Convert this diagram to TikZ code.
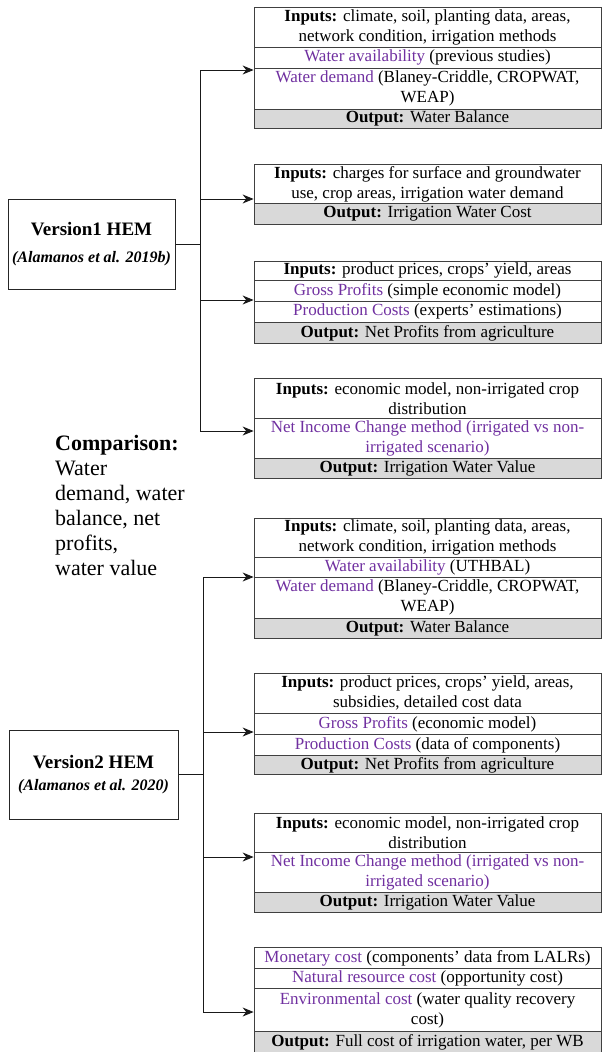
\documentclass[tikz,border=0pt]{standalone}
\usepackage{fontspec}
\setmainfont{Liberation Serif}
\usetikzlibrary{arrows.meta}
\definecolor{purp}{HTML}{7030A0}
\newcommand{\tf}{\fontsize{17}{20}\selectfont}
\newcommand{\pp}[1]{\textcolor{purp}{#1}}
\begin{document}
\begin{tikzpicture}[x=1pt,y=-1pt,
  cell/.style={draw=black!75, line width=0.8pt, minimum width=347pt, inner sep=0pt,
               align=center, font=\tf, anchor=north},
  outcell/.style={cell, fill=black!15},
  verbox/.style={draw=black!85, line width=1pt, inner sep=0pt, align=center},
  conn/.style={line width=1pt, draw=black!90},
  arr/.style={conn, -{Stealth[length=11pt,width=9pt]}}
]
\useasboundingbox (0,0) rectangle (603,1052);
\clip (0,0) rectangle (603,1052);

% ---------- Version 1 tables ----------
\node[cell, minimum height=40pt] (t1a) at (427.5,7) {\textbf{Inputs:} climate, soil, planting data, areas,\\network condition, irrigation methods};
\node[cell, minimum height=21pt] (t1b) at (427.5,47) {\pp{Water availability} (previous studies)};
\node[cell, minimum height=41pt] (t1c) at (427.5,68) {\pp{Water demand} (Blaney-Criddle, CROPWAT,\\WEAP)};
\node[outcell, minimum height=19pt] (t1d) at (427.5,109) {\textbf{Output:} Water Balance};

\node[cell, minimum height=39pt] (t2a) at (427.5,164) {\textbf{Inputs:} charges for surface and groundwater\\use, crop areas, irrigation water demand};
\node[outcell, minimum height=21pt] (t2b) at (427.5,203) {\textbf{Output:} Irrigation Water Cost};

\node[cell, minimum height=19pt] (t3a) at (427.5,261) {\textbf{Inputs:} product prices, crops’ yield, areas};
\node[cell, minimum height=21pt] (t3b) at (427.5,280) {\pp{Gross Profits} (simple economic model)};
\node[cell, minimum height=21pt] (t3c) at (427.5,301) {\pp{Production Costs} (experts’ estimations)};
\node[outcell, minimum height=21pt] (t3d) at (427.5,322) {\textbf{Output:} Net Profits from agriculture};

\node[cell, minimum height=40pt] (t4a) at (427.5,378) {\textbf{Inputs:} economic model, non-irrigated crop\\distribution};
\node[cell, minimum height=40pt] (t4b) at (427.5,418) {\pp{Net Income Change method (irrigated vs non-}\\\pp{irrigated scenario)}};
\node[outcell, minimum height=20pt] (t4c) at (427.5,458) {\textbf{Output:} Irrigation Water Value};

% ---------- Version 2 tables ----------
\node[cell, minimum height=39pt] (t5a) at (427.5,518) {\textbf{Inputs:} climate, soil, planting data, areas,\\network condition, irrigation methods};
\node[cell, minimum height=20pt] (t5b) at (427.5,557) {\pp{Water availability} (UTHBAL)};
\node[cell, minimum height=41pt] (t5c) at (427.5,577) {\pp{Water demand} (Blaney-Criddle, CROPWAT,\\WEAP)};
\node[outcell, minimum height=20pt] (t5d) at (427.5,618) {\textbf{Output:} Water Balance};

\node[cell, minimum height=40pt] (t6a) at (427.5,673) {\textbf{Inputs:} product prices, crops’ yield, areas,\\subsidies, detailed cost data};
\node[cell, minimum height=21pt] (t6b) at (427.5,713) {\pp{Gross Profits} (economic model)};
\node[cell, minimum height=21pt] (t6c) at (427.5,734) {\pp{Production Costs} (data of components)};
\node[outcell, minimum height=19pt] (t6d) at (427.5,755) {\textbf{Output:} Net Profits from agriculture};

\node[cell, minimum height=39pt] (t7a) at (427.5,813) {\textbf{Inputs:} economic model, non-irrigated crop\\distribution};
\node[cell, minimum height=40pt] (t7b) at (427.5,852) {\pp{Net Income Change method (irrigated vs non-}\\\pp{irrigated scenario)}};
\node[outcell, minimum height=20pt] (t7c) at (427.5,892) {\textbf{Output:} Irrigation Water Value};

\node[cell, minimum height=21pt] (t8a) at (427.5,947) {\pp{Monetary cost} (components’ data from LALRs)};
\node[cell, minimum height=20pt] (t8b) at (427.5,968) {\pp{Natural resource cost} (opportunity cost)};
\node[cell, minimum height=43pt] (t8c) at (427.5,988) {\pp{Environmental cost} (water quality recovery\\cost)};
\node[outcell, minimum height=21pt, text height=13pt, text depth=4pt] (t8d) at (427.5,1031) {\textbf{Output:} Full cost of irrigation water, per WB};
\fill[black!15] (254.4,1051.6) rectangle (600.6,1060);

% ---------- Version boxes ----------
\node[verbox, minimum width=167pt, minimum height=90pt, font=\fontsize{19}{27}\selectfont] (v1) at (91.5,244)
  {{\bfseries Version1 HEM}\\{\fontsize{16}{19}\selectfont\bfseries\itshape (Alamanos et al. 2019b)}};
\node[verbox, minimum width=169pt, minimum height=89pt, font=\fontsize{19}{22}\selectfont] (v2) at (93.5,774.5)
  {{\bfseries Version2 HEM}\\{\fontsize{16}{19}\selectfont\bfseries\itshape (Alamanos et al. 2020)}};

% ---------- Comparison text ----------
\node[anchor=north west, inner sep=0pt, align=left, font=\fontsize{22}{25}\selectfont] (cmp) at (55,435)
  {\textbf{Comparison:}\\Water\\demand, water\\balance, net\\profits,\\water value};

% ---------- Connectors version 1 ----------
\coordinate (j1a) at (200,70);
\coordinate (j1b) at (200,199);
\coordinate (j1c) at (200,300);
\coordinate (j1d) at (200,431);
\draw[conn] (v1.east) -- (v1.east -| j1a);
\draw[conn] (j1a) -- (j1d);
\draw[arr] (j1a) -- (j1a -| t1c.west);
\draw[arr] (j1b) -- (j1b -| t2a.west);
\draw[arr] (j1c) -- (j1c -| t3c.west);
\draw[arr] (j1d) -- (j1d -| t4b.west);

% ---------- Connectors version 2 ----------
\coordinate (j2a) at (203,577);
\coordinate (j2b) at (203,732);
\coordinate (j2c) at (203,857);
\coordinate (j2d) at (203,1012);
\draw[conn] (v2.east) -- (v2.east -| j2a);
\draw[conn] (j2a) -- (j2d);
\draw[arr] (j2a) -- (j2a -| t5c.west);
\draw[arr] (j2b) -- (j2b -| t6b.west);
\draw[arr] (j2c) -- (j2c -| t7b.west);
\draw[arr] (j2d) -- (j2d -| t8c.west);
\end{tikzpicture}
\end{document}
